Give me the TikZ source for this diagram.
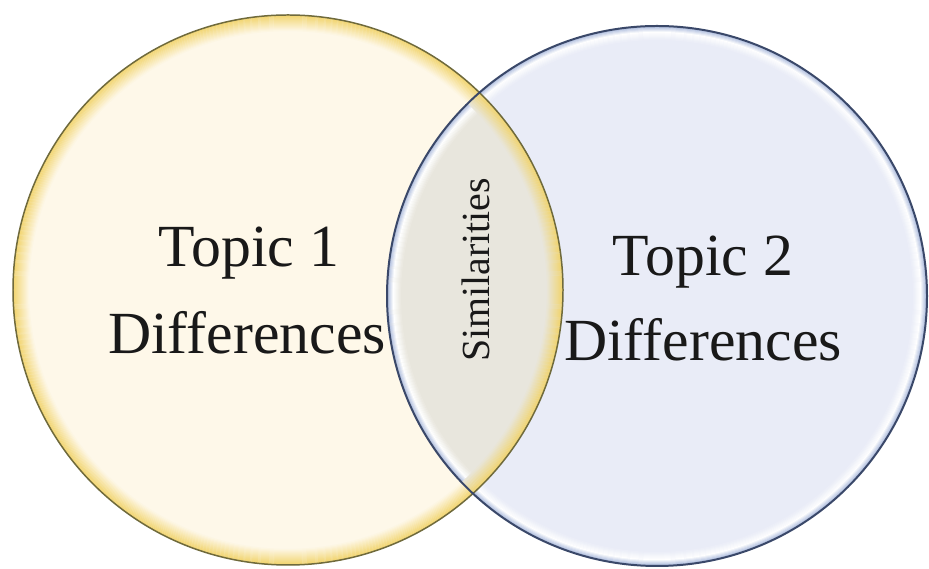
\documentclass[tikz,border=0pt]{standalone}
\usepackage{fontspec}
\setmainfont{Liberation Serif}
\usepackage{tikz}
\usetikzlibrary{positioning}
\definecolor{creamFill}{HTML}{FEF8E9}
\definecolor{creamRim}{HTML}{F1D46E}
\definecolor{creamEdge}{HTML}{6F6A3C}
\definecolor{blueFill}{HTML}{E9ECF7}
\definecolor{blueRim}{HTML}{A7B7DB}
\definecolor{blueEdge}{HTML}{3A4869}
\definecolor{lensFill}{HTML}{E8E6DD}
\colorlet{inkColor}{black!90}
\tikzstyle{topiclabel} = [inner sep=0pt,text=inkColor,font=\fontsize{60}{72}\selectfont,anchor=base]
\tikzstyle{sharedlabel} = [inner sep=0pt,text=inkColor,font=\fontsize{40}{48}\selectfont,anchor=base,rotate=90]
% rings fading from #4 at radius #2 to #5, #3 rings deep
\newcommand{\rimfade}[5]{%
  \foreach \k [evaluate=\k as \p using int(100-100*(\k-1)/#3)] in {1,...,#3}
    \draw[line width=1.2,#4!\p!#5] (#1) circle (#2-\k+0.5);}

\begin{document}
\begin{tikzpicture}[x=1bp,y=1bp]
%
\useasboundingbox[fill=white] (0,0) rectangle (929,569);

\coordinate (leftc) at (288,279);
\coordinate (rightc) at (657,273);

% first topic: yellow rim fading into cream
\fill[creamFill] (leftc) circle (275);
\rimfade{leftc}{275}{16}{creamRim}{creamFill}

% second topic: blue rim, light highlight, then fill
\fill[blueFill] (rightc) circle (270);
\rimfade{rightc}{270}{6}{blueRim}{white}
\rimfade{rightc}{264}{8}{white}{blueFill}

% the shared lens
\begin{scope}
  \clip (leftc) circle (275);
  \fill[lensFill] (rightc) circle (270);
  \rimfade{rightc}{270}{6}{blueRim}{white}
  \rimfade{rightc}{264}{8}{white}{lensFill}
  \clip (rightc) circle (270);
  \rimfade{leftc}{275}{16}{creamRim}{lensFill}
\end{scope}

\draw[creamEdge,line width=1.5] (leftc) circle (275);
\draw[blueEdge,line width=2] (rightc) circle (270);

\node (topicA) [topiclabel] at (249,302) {Topic 1};
\node (diffA) [topiclabel] at (247,215) {Differences};
\node (topicB) [topiclabel] at (703,293) {Topic 2};
\node (diffB) [topiclabel] at (703,208) {Differences};
\node (shared) [sharedlabel] at (489,299) {Similarities};
\end{tikzpicture}
\end{document}
